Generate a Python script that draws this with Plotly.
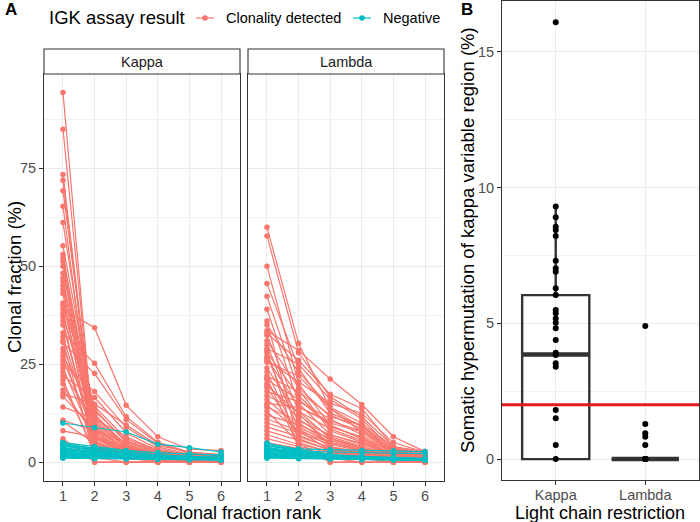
import plotly.graph_objects as go

W, H = 700, 522
def px(x): return x / W
def py(y): return 1 - y / H

RED = '#F8766D'
TEAL = '#00BFC4'
GRID = '#EBEBEB'
MINOR = '#F2F2F2'
BORDER = '#333333'
TICKC = '#4D4D4D'
FONT = 'Liberation Sans, Arial, sans-serif'

# ---------------- data: panel A ----------------
ranks = [1, 2, 3, 4, 5, 6]
rank_labels = ['1', '2', '3', '4', '5', '6']
facets = ['Kappa', 'Lambda']
legend_labels = ['Clonality detected', 'Negative']

kappa_clonal = [
    [94.3, 3.1, 1.2, 0.6, 0.4, 0.3],
    [84.9, 4.5, 1.5, 0.9, 0.5, 0.4],
    [73.4, 6.2, 2.0, 1.1, 0.8, 0.5],
    [71.9, 5.0, 1.8, 1.0, 0.6, 0.4],
    [69.2, 8.1, 2.4, 1.3, 0.9, 0.7],
    [65.3, 3.8, 1.4, 0.8, 0.6, 0.5],
    [61.1, 9.5, 3.0, 1.6, 1.0, 0.8],
    [55.2, 12.3, 3.5, 1.8, 1.2, 0.9],
    [53.0, 7.0, 2.2, 1.2, 0.9, 0.6],
    [52.1, 10.8, 4.1, 2.0, 1.3, 1.0],
    [51.2, 5.5, 1.9, 1.1, 0.7, 0.5],
    [50.0, 3.0, 1.0, 0.5, 0.3, 0.0],
    [48.2, 13.5, 5.0, 2.4, 1.5, 1.1],
    [47.0, 2.6, 1.0, 0.6, 0.4, 0.3],
    [46.1, 8.8, 2.9, 1.5, 1.0, 0.8],
    [45.0, 11.4, 4.6, 2.2, 1.4, 1.0],
    [44.0, 6.6, 2.1, 1.2, 0.8, 0.6],
    [43.0, 0.0, 0.0, 0.0, 0.0, 0.0],
    [40.6, 14.2, 6.0, 2.9, 1.7, 1.2],
    [39.8, 9.1, 3.3, 1.7, 1.1, 0.8],
    [39.0, 34.3, 14.5, 6.5, 3.3, 3.0],
    [38.0, 7.8, 2.7, 1.4, 0.9, 0.7],
    [37.0, 12.0, 4.4, 2.1, 1.3, 0.9],
    [36.0, 4.0, 1.4, 0.7, 0.0, 0.0],
    [35.0, 4.2, 1.6, 0.9, 0.6, 0.4],
    [33.0, 25.2, 11.6, 5.1, 2.5, 1.6],
    [32.0, 6.0, 2.3, 1.3, 0.8, 0.6],
    [31.0, 1.2, 0.0, 0.0, 0.0, 0.0],
    [30.5, 22.6, 10.9, 4.8, 2.3, 1.5],
    [29.0, 9.9, 3.7, 1.9, 1.2, 0.9],
    [28.0, 3.4, 1.3, 0.8, 0.5, 0.4],
    [27.0, 13.0, 5.5, 2.6, 1.6, 1.1],
    [26.0, 7.4, 2.6, 1.4, 0.9, 0.7],
    [25.0, 18.0, 8.9, 3.9, 2.0, 1.4],
    [24.0, 5.2, 1.9, 1.0, 0.7, 0.5],
    [23.0, 10.2, 3.9, 1.9, 1.2, 0.9],
    [22.0, 16.5, 7.5, 3.4, 1.8, 1.3],
    [21.0, 2.0, 0.9, 0.5, 0.4, 0.3],
    [20.0, 2.8, 1.1, 0.0, 0.0, 0.0],
    [18.4, 6.8, 2.5, 1.3, 0.8, 0.6],
    [17.5, 14.8, 9.5, 4.3, 2.6, 2.0],
    [16.7, 8.4, 3.2, 1.6, 1.0, 0.7],
    [14.1, 11.0, 6.5, 3.0, 1.7, 1.2],
    [10.7, 7.9, 5.2, 2.7, 1.6, 1.1],
    [10.3, 4.8, 2.0, 1.1, 0.7, 0.5],
    [8.0, 6.4, 4.0, 2.2, 1.4, 1.0],
    [6.0, 0.0, 0.0, 0.0, 0.0, 0.0],
    [5.2, 3.0, 1.8, 1.2, 0.9, 0.7],
]

kappa_negative = [
    [10.0, 8.8, 7.7, 4.6, 3.7, 2.6],
    [5.0, 4.0, 3.0, 2.4, 2.0, 1.7],
    [4.8, 3.5, 2.2, 1.6, 1.3, 1.0],
    [4.5, 3.0, 2.0, 1.5, 1.1, 0.9],
    [4.4, 3.6, 2.8, 2.4, 2.1, 1.8],
    [4.2, 2.8, 1.9, 1.4, 1.1, 0.8],
    [4.0, 3.3, 2.5, 1.9, 1.5, 1.2],
    [3.8, 2.6, 1.8, 1.3, 1.0, 0.8],
    [3.6, 2.5, 1.7, 1.3, 1.0, 0.8],
    [3.4, 2.4, 1.6, 1.2, 0.9, 0.7],
    [3.2, 2.7, 2.2, 1.8, 1.5, 1.3],
    [3.0, 2.2, 1.6, 1.2, 1.0, 0.8],
    [2.8, 2.1, 1.5, 1.2, 0.9, 0.7],
    [2.6, 2.0, 1.6, 1.3, 1.1, 0.9],
    [2.4, 1.8, 1.4, 1.1, 0.9, 0.7],
    [2.2, 1.7, 1.3, 1.0, 0.8, 0.7],
    [2.0, 1.6, 1.3, 1.1, 0.9, 0.8],
    [1.8, 1.5, 1.2, 1.0, 0.9, 0.7],
    [1.6, 1.3, 1.1, 0.9, 0.8, 0.7],
    [1.4, 1.2, 1.0, 0.9, 0.8, 0.6],
    [1.2, 1.0, 0.9, 0.8, 0.7, 0.6],
    [1.0, 0.9, 0.8, 0.7, 0.6, 0.5],
]

lambda_clonal = [
    [59.9, 30.3, 13.7, 7.7, 3.0, 1.6],
    [57.7, 27.9, 16.7, 11.6, 4.0, 2.2],
    [50.0, 20.0, 9.4, 6.0, 2.7, 1.5],
    [45.6, 24.0, 12.5, 9.4, 3.5, 1.8],
    [42.3, 18.5, 8.0, 5.0, 2.2, 1.2],
    [39.0, 15.0, 7.0, 4.5, 2.0, 1.1],
    [36.0, 5.0, 0.0, 0.0, 0.0, 0.0],
    [35.0, 23.0, 14.0, 10.0, 3.8, 1.9],
    [33.5, 28.5, 21.2, 14.7, 6.5, 2.7],
    [32.8, 26.0, 17.3, 13.7, 4.0, 2.7],
    [32.4, 13.0, 6.0, 3.5, 1.6, 0.9],
    [31.0, 19.0, 11.6, 9.4, 2.7, 1.4],
    [30.0, 10.0, 5.0, 3.0, 1.4, 0.8],
    [29.0, 25.0, 16.0, 11.0, 3.0, 1.6],
    [28.5, 3.5, 1.0, 0.0, 0.0, 0.0],
    [28.0, 17.0, 9.0, 6.5, 2.4, 1.2],
    [27.0, 8.5, 4.0, 2.5, 1.2, 0.7],
    [26.5, 14.0, 10.0, 7.7, 2.5, 1.3],
    [26.0, 20.5, 15.0, 12.5, 5.0, 2.5],
    [25.5, 22.0, 13.7, 9.0, 3.0, 1.5],
    [24.0, 12.0, 6.5, 4.0, 1.8, 1.0],
    [23.0, 6.0, 3.0, 1.8, 0.9, 0.5],
    [22.0, 18.0, 12.0, 8.5, 2.8, 1.4],
    [21.5, 4.0, 0.0, 0.0, 0.0, 0.0],
    [21.0, 16.0, 9.4, 6.0, 2.0, 1.0],
    [20.0, 11.0, 5.5, 3.5, 1.5, 0.8],
    [19.5, 12.5, 4.0, 1.0, 0.0, 0.0],
    [19.0, 7.0, 3.5, 2.2, 1.0, 0.6],
    [18.0, 15.5, 11.0, 7.0, 2.6, 1.4],
    [17.0, 13.0, 8.5, 5.5, 2.0, 1.1],
    [16.0, 9.0, 5.0, 3.2, 1.4, 0.8],
    [15.0, 14.0, 10.5, 8.0, 3.2, 1.9],
    [14.5, 8.0, 3.0, 1.2, 0.5, 0.0],
    [14.0, 10.5, 7.0, 4.8, 2.0, 1.1],
    [13.0, 5.0, 2.5, 1.5, 0.8, 0.5],
    [12.0, 9.5, 6.0, 4.0, 1.8, 1.0],
    [11.0, 8.0, 5.0, 3.0, 1.4, 0.8],
    [10.0, 7.5, 4.5, 2.8, 1.3, 0.7],
    [9.0, 6.5, 3.8, 2.4, 1.1, 0.6],
    [8.0, 5.5, 3.2, 2.0, 1.0, 0.6],
    [7.0, 4.5, 2.8, 1.7, 0.9, 0.5],
    [6.0, 4.0, 2.4, 1.5, 0.8, 0.5],
    [5.0, 3.5, 2.0, 1.2, 0.7, 0.4],
]

lambda_negative = [
    [4.9, 3.2, 2.0, 1.5, 1.2, 1.0],
    [4.6, 3.0, 1.8, 1.4, 1.1, 0.9],
    [4.3, 2.8, 1.7, 1.3, 1.0, 0.8],
    [4.0, 3.4, 3.2, 3.0, 2.9, 2.7],
    [3.8, 2.6, 1.6, 1.2, 1.0, 0.8],
    [3.6, 2.5, 1.5, 1.1, 0.9, 0.7],
    [3.5, 2.9, 2.6, 2.4, 2.3, 2.2],
    [3.4, 2.3, 1.5, 1.1, 0.9, 0.7],
    [3.2, 2.2, 1.4, 1.0, 0.8, 0.7],
    [3.0, 2.0, 1.3, 1.0, 0.8, 0.6],
    [2.8, 1.9, 1.3, 1.0, 0.8, 0.6],
    [2.6, 1.8, 1.2, 0.9, 0.8, 0.6],
    [2.4, 1.6, 1.1, 0.9, 0.7, 0.6],
    [2.2, 1.5, 1.1, 0.9, 0.7, 0.5],
    [2.0, 1.4, 1.0, 0.8, 0.7, 0.5],
    [1.8, 1.3, 1.0, 0.8, 0.6, 0.5],
    [1.6, 1.2, 0.9, 0.7, 0.6, 0.5],
    [1.4, 1.1, 0.9, 0.7, 0.6, 0.5],
    [1.2, 1.0, 0.8, 0.7, 0.6, 0.5],
    [1.0, 0.9, 0.8, 0.7, 0.6, 0.5],
]

# ---------------- data: panel B ----------------
shm_categories = ['Kappa', 'Lambda']
shm_kappa = [16.09, 9.30, 8.91, 8.56, 8.44, 8.22, 7.30, 7.03, 6.90, 6.29, 6.04,
             5.49, 5.37, 5.18, 5.02, 4.82, 4.39, 3.92, 3.83, 3.53, 3.40, 1.81,
             1.50, 0.52, 0.0]
shm_lambda = [4.90, 1.29, 0.95, 0.82, 0.52, 0.0, 0.0, 0.0, 0.0, 0.0, 0.0]
box_q1 = [0.0, 0.0]
box_median = [3.85, 0.0]
box_q3 = [6.04, 0.0]
box_lowerfence = [0.0, 0.0]
box_upperfence = [9.30, 0.0]
shm_threshold = 2.0

BOX_WIDTH = 0.75


def connect(lines):
    xs, ys = [], []
    for ln in lines:
        xs += ranks + [None]
        ys += ln + [None]
    return xs, ys


fig = go.Figure()

for lines, color, xa, ya in [
    (kappa_clonal, RED, 'x', 'y'),
    (kappa_negative, TEAL, 'x', 'y'),
    (lambda_clonal, RED, 'x2', 'y2'),
    (lambda_negative, TEAL, 'x2', 'y2'),
]:
    xs, ys = connect(lines)
    fig.add_trace(go.Scatter(
        x=xs, y=ys, xaxis=xa, yaxis=ya, mode='lines+markers',
        line=dict(color=color, width=1.2),
        marker=dict(color=color, size=5.5),
        connectgaps=False, showlegend=False, hoverinfo='skip'))

# Panel B box
cat_pos = [i + 1 for i in range(len(shm_categories))]
fig.add_trace(go.Box(
    x=cat_pos, q1=box_q1, median=box_median, q3=box_q3,
    lowerfence=box_lowerfence, upperfence=box_upperfence,
    xaxis='x3', yaxis='y3', width=BOX_WIDTH, whiskerwidth=0,
    fillcolor='rgba(255,255,255,0)', line=dict(color=BORDER, width=2.4),
    boxpoints=False, showlegend=False, hoverinfo='skip'))

# thicker median bars
mx, my = [], []
for c, m in zip(cat_pos, box_median):
    mx += [c - BOX_WIDTH / 2, c + BOX_WIDTH / 2, None]
    my += [m, m, None]
fig.add_trace(go.Scatter(x=mx, y=my, xaxis='x3', yaxis='y3', mode='lines',
                         line=dict(color=BORDER, width=4.5),
                         showlegend=False, hoverinfo='skip'))

# points
fig.add_trace(go.Scatter(
    x=[cat_pos[0]] * len(shm_kappa) + [cat_pos[1]] * len(shm_lambda),
    y=shm_kappa + shm_lambda, xaxis='x3', yaxis='y3', mode='markers',
    marker=dict(color='black', size=6), showlegend=False, hoverinfo='skip'))

axis_common = dict(
    showgrid=True, gridcolor=GRID, gridwidth=1, zeroline=False,
    showline=True, mirror=True, linecolor=BORDER, linewidth=1.1,
    ticks='outside', ticklen=4, tickcolor=BORDER, tickwidth=1,
    tickfont=dict(family=FONT, size=14.5, color=TICKC))

x_common = dict(axis_common, ticklabelstandoff=-2)

yA_common = dict(axis_common, range=[-4.8, 99], tickvals=[0, 25, 50, 75],
                 ticktext=['0', '25', '50', '75'],
                 minor=dict(tickvals=[12.5, 37.5, 62.5, 87.5], showgrid=True,
                            gridcolor=MINOR, gridwidth=0.8, ticks=''),
                 domain=[py(481), py(74)])

fig.update_layout(
    width=W, height=H, margin=dict(l=0, r=0, t=0, b=0),
    paper_bgcolor='white', plot_bgcolor='white',
    font=dict(family=FONT, color='black'),
    xaxis=dict(x_common, domain=[px(44), px(240)], range=[0.4, 6.6],
               tickvals=ranks, ticktext=rank_labels, anchor='y'),
    yaxis=dict(yA_common, anchor='x'),
    xaxis2=dict(x_common, domain=[px(248), px(444)], range=[0.4, 6.6],
                tickvals=ranks, ticktext=rank_labels, anchor='y2'),
    yaxis2=dict(yA_common, anchor='x2', matches='y', showticklabels=False,
                ticks=''),
    xaxis3=dict(x_common, domain=[px(502), px(699)], range=[0.4, 2.6],
                tickvals=cat_pos, ticktext=shm_categories, anchor='y3'),
    yaxis3=dict(axis_common, domain=[py(480), py(1)], range=[-0.77, 16.87],
                tickvals=[0, 5, 10, 15], ticktext=['0', '5', '10', '15'],
                minor=dict(tickvals=[2.5, 7.5, 12.5], showgrid=True,
                           gridcolor=MINOR, gridwidth=0.8, ticks=''),
                anchor='x3'),
)

shapes = []
# facet strips
for (x0, x1) in [(44, 240), (248, 444)]:
    shapes.append(dict(type='rect', xref='paper', yref='paper',
                       x0=px(x0), x1=px(x1), y0=py(74), y1=py(49),
                       fillcolor='white', line=dict(color=BORDER, width=1.1)))
# legend keys
for (cx, color) in [(205, RED), (362, TEAL)]:
    shapes.append(dict(type='line', xref='paper', yref='paper',
                       x0=px(cx - 9), x1=px(cx + 9), y0=py(18), y1=py(18),
                       line=dict(color=color, width=1.2)))
    shapes.append(dict(type='circle', xref='paper', yref='paper',
                       x0=px(cx - 2.8), x1=px(cx + 2.8),
                       y0=py(18 + 2.8), y1=py(18 - 2.8),
                       fillcolor=color, line=dict(color=color, width=0)))
# threshold line
shapes.append(dict(type='line', xref='x3 domain', yref='y3', x0=0, x1=1,
                   y0=shm_threshold, y1=shm_threshold, layer='above',
                   line=dict(color='#E31A1C', width=3)))
fig.update_layout(shapes=shapes)

ann = []
def text(x, y, s, size, color='black', xanchor='center', angle=0):
    ann.append(dict(x=px(x), y=py(y), xref='paper', yref='paper', text=s,
                    showarrow=False, xanchor=xanchor, yanchor='middle',
                    textangle=angle,
                    font=dict(family=FONT, size=size, color=color)))

text(3, 9, '<b>A</b>', 17, xanchor='left')
text(459, 9, '<b>B</b>', 17, xanchor='left')
text(47, 18, 'IGK assay result', 18.5, xanchor='left')
text(224, 18, legend_labels[0], 14.5, xanchor='left')
text(381, 18, legend_labels[1], 14.5, xanchor='left')
text(142, 61.5, facets[0], 14.5, color='#1A1A1A')
text(346, 61.5, facets[1], 14.5, color='#1A1A1A')
text(244, 512.5, 'Clonal fraction rank', 18)
text(600, 512.5, 'Light chain restriction', 18)
text(14, 277, 'Clonal fraction (%)', 18.5, angle=-90)
text(467, 240, 'Somatic hypermutation of kappa variable region (%)', 18.5, angle=-90)
fig.update_layout(annotations=ann)

fig.write_html('out.html', config={'displayModeBar': False},
               post_script="document.body.style.margin='0';document.body.style.overflow='hidden';")
